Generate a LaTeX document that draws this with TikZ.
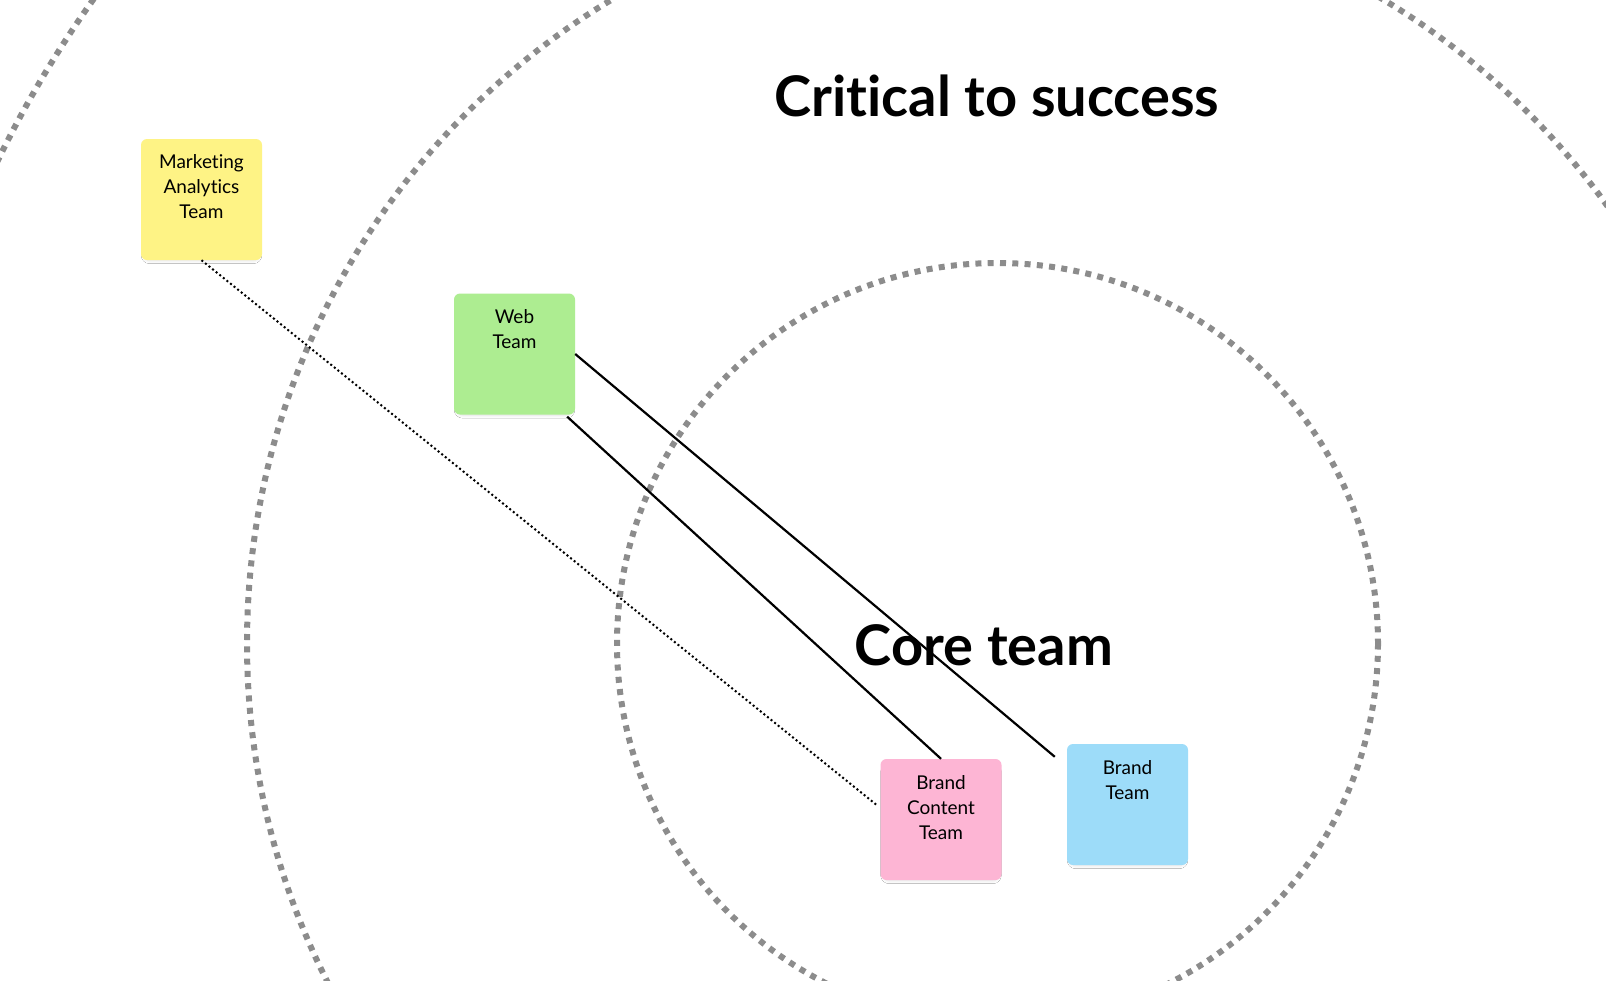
\documentclass[tikz,border=0pt]{standalone}
\usepackage{fontspec}
\setmainfont{Lato}[Ligatures={NoCommon}]
\usetikzlibrary{calc,shadows.blur}
\definecolor{ringgray}{HTML}{8C8C8C}
\definecolor{styellow}{HTML}{FEF385}
\definecolor{stgreen}{HTML}{ADED91}
\definecolor{stpink}{HTML}{FDB5D4}
\definecolor{stblue}{HTML}{9DDCF9}
\tikzset{
  ring/.style={draw=ringgray, line width=6pt, dash pattern=on 6pt off 6.3pt},
  sticky/.style={rounded corners=6pt, inner sep=0pt, minimum width=121pt, minimum height=121pt,
    blur shadow={shadow xshift=0pt, shadow yshift=-4pt, shadow blur radius=3pt, shadow opacity=12, shadow scale=0.95}},
  title/.style={font=\fontsize{56}{60}\selectfont\bfseries, inner sep=0pt},
  link/.style={draw=black, line width=2.2pt},
  dotlink/.style={draw=black, line width=2pt, dash pattern=on 2pt off 2.6pt},
}
\newcommand{\stickytext}[1]{\begin{minipage}[c][121pt][t]{121pt}\centering\fontsize{19}{25}\selectfont\vspace*{16pt}#1\end{minipage}}
\begin{document}
\begin{tikzpicture}[x=1pt,y=-1pt]
\useasboundingbox (0,0) rectangle (1606,980);
\fill[white] (0,0) rectangle (1606,980);
\begin{scope}
\clip (0,0) rectangle (1606,980);
\coordinate (c) at (997.5,643.5);
\draw[ring] (c) circle[radius=380.5];
\draw[ring] (c) circle[radius=750.5];
\draw[ring] (c) circle[radius=1110];
\end{scope}
\node[title, anchor=base] (crit) at (997,116) {Critical to success};
\node[title, anchor=base] (core) at (984,665) {Core team};
\node[sticky, fill=styellow] (mat) at (201.5,199.5) {\stickytext{Marketing\\Analytics\\Team}};
\node[sticky, fill=stgreen] (web) at (514.5,354) {\stickytext{Web\\Team}};
\node[sticky, fill=stpink] (bc) at (941,819.5) {\stickytext{Brand\\Content\\Team}};
\node[sticky, fill=stblue] (bt) at (1127.5,804.5) {\stickytext{Brand\\Team}};
\draw[dotlink] (mat.south) -- ($(bc.west)+(-3,-14)$);
\draw[link] (web.east) -- ($(bt.north west)+(-12,13)$);
\draw[link] ($(web.south east)+(-8,2)$) -- (bc.north);
\end{tikzpicture}
\end{document}
